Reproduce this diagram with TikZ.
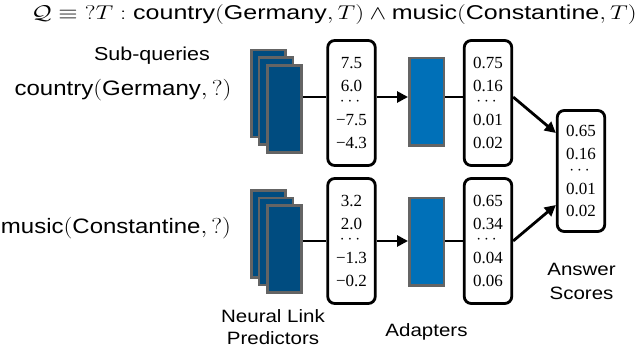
\documentclass[tikz,border=0pt]{standalone}
\usepackage{amsmath}
\usepackage{graphicx}
\usepackage{fontspec}
\setmainfont{Liberation Sans}
\newfontfamily\numfont{Liberation Serif}
\usetikzlibrary{arrows.meta}
\definecolor{nlpblue}{RGB}{0,76,128}
\definecolor{adblue}{RGB}{0,112,184}
\definecolor{edgegray}{RGB}{100,100,100}
\newcommand\vsq[2]{\scalebox{1}[#1]{#2}}
\tikzset{
  nlp/.style={draw=edgegray, fill=nlpblue, line width=2.5pt, minimum width=34pt, minimum height=87pt, inner sep=0pt},
  adapter/.style={draw=edgegray, fill=adblue, line width=2.5pt, minimum width=34.5pt, minimum height=87.5pt, inner sep=0pt},
  vec/.style={draw, line width=2.8pt, rounded corners=7pt, minimum width=47.5pt, minimum height=125pt, inner sep=0pt, align=center, font=\numfont\fontsize{17}{23}\selectfont},
  conn/.style={line width=2.8pt},
  arr/.style={line width=2.8pt, -{Triangle[length=11pt,width=11pt]}},
  lbl/.style={inner sep=0pt, font=\fontsize{20.5}{26}\selectfont},
}
\begin{document}
\begin{tikzpicture}[x=1pt,y=-1pt]
\useasboundingbox (0,0) rectangle (640,350);
% title
\node[inner sep=0pt, font=\fontsize{25}{28}\selectfont] (title) at (334,15)
  {\vsq{0.8}{$\mathcal{Q}\equiv {?}T:\text{country}(\text{Germany},T)\wedge\text{music}(\text{Constantine},T)$}};
\node[inner sep=0pt, font=\fontsize{21.5}{24}\selectfont] (sub) at (152,56) {\vsq{0.87}{Sub-queries}};
\node[inner sep=0pt, font=\fontsize{24}{28}\selectfont] (q1) at (123,90) {\vsq{0.87}{country$(\text{Germany},?)$}};
\node[inner sep=0pt, font=\fontsize{24}{28}\selectfont] (q2) at (116,228) {\vsq{0.87}{music$(\text{Constantine},?)$}};
% coordinates for connector heights
\coordinate (r1) at (0,97);
\coordinate (r2) at (0,241);
% neural link predictors (top)
\node[nlp] (p1a) at (268.5,93.5) {};
\node[nlp] (p1b) at (276,101) {};
\node[nlp] (p1c) at (284.5,109) {};
% neural link predictors (bottom)
\node[nlp] (p2a) at (268.5,234) {};
\node[nlp] (p2b) at (276,241.5) {};
\node[nlp] (p2c) at (284.5,249) {};
% score vectors
\node[vec] (v1) at (351.5,103) {7.5\\6.0\\[-9pt]$\cdots$\\[-3pt]−7.5\\−4.3};
\node[vec] (v2) at (351.5,241) {3.2\\2.0\\[-9pt]$\cdots$\\[-3pt]−1.3\\−0.2};
% adapters
\node[adapter] (a1) at (426.5,102) {};
\node[adapter] (a2) at (426.5,241.5) {};
% adapted vectors
\node[vec] (w1) at (488,103) {0.75\\0.16\\[-9pt]$\cdots$\\[-3pt]0.01\\0.02};
\node[vec] (w2) at (488,241) {0.65\\0.34\\[-9pt]$\cdots$\\[-3pt]0.04\\0.06};
% answer
\node[vec, minimum height=121pt, font=\numfont\fontsize{17}{22.5}\selectfont] (ans) at (581,171)
  {0.65\\0.16\\[-7.5pt]$\cdots$\\[-2.5pt]0.01\\0.02};
% connectors
\draw[conn] (p1c.east |- r1) -- (v1.west |- r1);
\draw[arr] (v1.east |- r1) -- (a1.west |- r1);
\draw[conn] (a1.east |- r1) -- (w1.west |- r1);
\draw[conn] (p2c.east |- r2) -- (v2.west |- r2);
\draw[arr] (v2.east |- r2) -- (a2.west |- r2);
\draw[conn] (a2.east |- r2) -- (w2.west |- r2);
\draw[arr] (w1.east |- r1) -- ([yshift=38pt]ans.west);
\draw[arr] (w2.east |- r2) -- ([yshift=-34pt]ans.west);
% bottom labels
\node[lbl] (nlpl) at (273,329) {\vsq{0.87}{\begin{tabular}{@{}c@{}}Neural Link\\Predictors\end{tabular}}};
\node[lbl] (adl) at (426.5,332) {\vsq{0.87}{Adapters}};
\node[lbl, font=\fontsize{20.5}{27.5}\selectfont] (ansl) at (581.5,283) {\vsq{0.87}{\begin{tabular}{@{}c@{}}Answer\\Scores\end{tabular}}};
\end{tikzpicture}
\end{document}
